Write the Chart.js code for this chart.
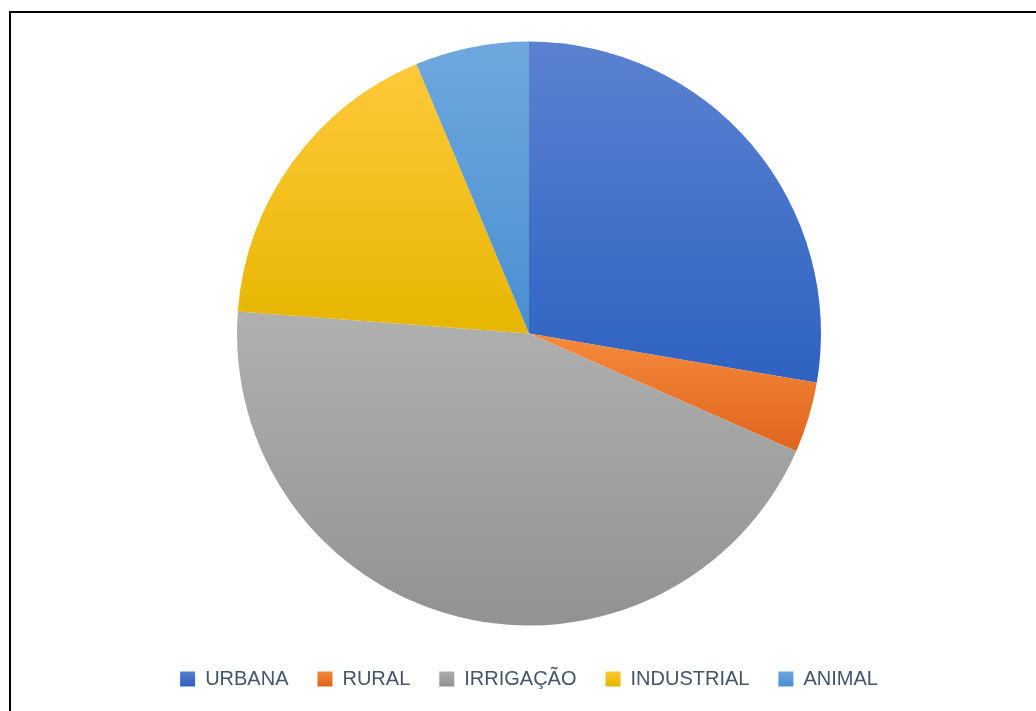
<!DOCTYPE html>
<html>
<head>
<meta charset="utf-8">
<script src="https://cdn.jsdelivr.net/npm/chart.js@4.4.1/dist/chart.umd.min.js"></script>
<style>
  html, body { margin: 0; padding: 0; background: #fff; overflow: hidden; }
  #frame { position: absolute; left: 9px; top: 11px; width: 1100px; height: 800px; border: 2px solid #000; }
  #wrap { position: absolute; left: 0; top: 0; width: 1036px; height: 760px; }
</style>
</head>
<body>
<div id="frame"></div>
<div id="wrap"><canvas id="piechart"></canvas></div>
<script>
var categories = ['URBANA', 'RURAL', 'IRRIGAÇÃO', 'INDUSTRIAL', 'ANIMAL'];
var values = [27.7, 3.9, 44.6, 17.5, 6.3];
var topColors = ['#5b82d0', '#f58a3c', '#b0b0b0', '#ffc93a', '#6ea8de'];
var bottomColors = ['#2e62c2', '#e0651c', '#929292', '#e6b600', '#4a8fd2'];

var pieRadius = 292;

// vertical extent of one slice, so each slice gets its own top-to-bottom gradient
function sliceExtent(i, cy) {
    var total = values.reduce(function (a, b) { return a + b; }, 0);
    var before = 0;
    for (var k = 0; k < i; k++) before += values[k];
    var a0 = before / total * 2 * Math.PI;
    var a1 = (before + values[i]) / total * 2 * Math.PI;
    var ys = [cy, cy - pieRadius * Math.cos(a0), cy - pieRadius * Math.cos(a1)];
    if (a0 <= 0.0001) ys.push(cy - pieRadius);
    if (a0 <= Math.PI && a1 >= Math.PI) ys.push(cy + pieRadius);
    return [Math.min.apply(null, ys), Math.max.apply(null, ys)];
}

function sliceFill(context) {
    var chart = context.chart;
    var area = chart.chartArea;
    var i = context.dataIndex;
    if (!area) return topColors[i];
    var cy = (area.top + area.bottom) / 2;
    var ext = sliceExtent(i, cy);
    var g = chart.ctx.createLinearGradient(0, ext[0], 0, ext[1]);
    g.addColorStop(0, topColors[i]);
    g.addColorStop(1, bottomColors[i]);
    return g;
}

var piechart = document.getElementById('piechart');

var myPieChart = new Chart(piechart, {
    type: 'pie',
    data: {
        labels: categories,
        datasets: [{
            data: values,
            backgroundColor: sliceFill,
            borderWidth: 0,
            radius: pieRadius
        }]
    },
    options: {
        responsive: true,
        maintainAspectRatio: false,
        animation: false,
        layout: { padding: { top: 27, left: 22, right: 0, bottom: 61 } },
        plugins: {
            tooltip: { enabled: false },
            legend: {
                position: 'bottom',
                labels: {
                    boxWidth: 15,
                    boxHeight: 15,
                    padding: 29,
                    color: '#44546a',
                    font: { family: 'Liberation Sans', size: 20 },
                    generateLabels: function (chart) {
                        var ctx = chart.ctx;
                        return categories.map(function (label, i) {
                            var g = ctx.createLinearGradient(0, 670, 0, 686);
                            g.addColorStop(0, topColors[i]);
                            g.addColorStop(1, bottomColors[i]);
                            return {
                                text: label,
                                fillStyle: g,
                                strokeStyle: 'rgba(0,0,0,0)',
                                lineWidth: 0,
                                fontColor: '#44546a',
                                hidden: false,
                                index: i
                            };
                        });
                    }
                }
            }
        }
    }
});
</script>
</body>
</html>
